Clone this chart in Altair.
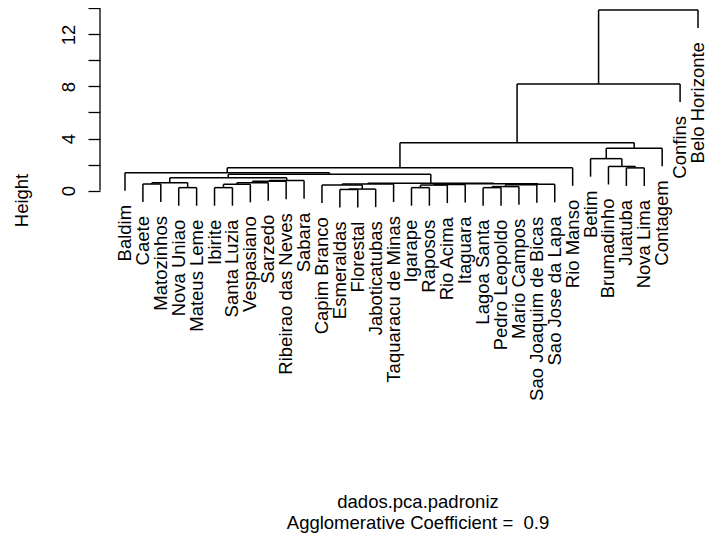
import altair as alt
import pandas as pd

# Leaves in dendrogram order
leaves = ["Baldim", "Caete", "Matozinhos", "Nova Uniao", "Mateus Leme", "Ibirite",
          "Santa Luzia", "Vespasiano", "Sarzedo", "Ribeirao das Neves", "Sabara",
          "Capim Branco", "Esmeraldas", "Florestal", "Jaboticatubas", "Taquaracu de Minas",
          "Igarape", "Raposos", "Rio Acima", "Itaguara", "Lagoa Santa", "Pedro Leopoldo",
          "Mario Campos", "Sao Joaquim de Bicas", "Sao Jose da Lapa", "Rio Manso", "Betim",
          "Brumadinho", "Juatuba", "Nova Lima", "Contagem", "Confins", "Belo Horizonte"]

# Merge matrix (R style: negative = leaf position, positive = earlier merge number)
merge_left = [-13, 1, -4, -6, -17, -21, 6, -12, 5, 7, 4, -2, 9, 10, 8, 12, 11, 13,
              15, 17, 20, 16, 22, -1, -29, 24, -28, -27, 28, 26, 30, 31]
merge_right = [-14, -15, -5, -7, -18, -22, -23, 2, -19, -24, -8, -3, -20, -25, -16, 3,
               -9, 14, 18, -10, -11, 21, 19, 23, -30, -26, 25, 27, -31, 29, -32, -33]
merge_height = [0.08, 0.11, 0.22, 0.22, 0.22, 0.22, 0.30, 0.42, 0.42, 0.44, 0.48, 0.50,
                0.47, 0.48, 0.50, 0.60, 0.60, 0.52, 0.56, 0.72, 0.76, 0.98, 1.25, 1.36,
                1.74, 1.75, 1.85, 2.45, 3.25, 3.68, 8.20, 13.88]

y_ticks = [0, 2, 4, 6, 8, 10, 12, 14]
y_labelled = [0, 4, 8, 12]
hang = 0.1
main_label = "dados.pca.padroniz"
sub_label = "Agglomerative Coefficient = \u00a00.9"

# ---- build segments from the merge structure ----
hang_len = hang * max(merge_height)
node_x, node_h = {}, {}
segs = []
leaf_bottom = {}
for k, (a, b, h) in enumerate(zip(merge_left, merge_right, merge_height), start=1):
    xs = []
    for c in (a, b):
        if c < 0:
            cx = -c
            bottom = h - hang_len
            leaf_bottom[cx] = bottom
        else:
            cx = node_x[c]
            bottom = node_h[c]
        segs.append({"x": cx, "x2": cx, "y": bottom, "y2": h})
        xs.append(cx)
    segs.append({"x": xs[0], "x2": xs[1], "y": h, "y2": h})
    node_x[k] = (xs[0] + xs[1]) / 2
    node_h[k] = h

seg_df = pd.DataFrame(segs)
leaf_df = pd.DataFrame({"name": leaves,
                        "x": list(range(1, len(leaves) + 1)),
                        "y": [leaf_bottom[i] for i in range(1, len(leaves) + 1)]})
axis_df = pd.DataFrame({"y": [y_ticks[0]], "y2": [y_ticks[-1]]})
text_df = pd.DataFrame({"t": [main_label]})
sub_df = pd.DataFrame({"t": [sub_label]})

FONT = "Liberation Sans"
FS = 18.5

xscale = alt.Scale(domain=[-0.396, 33.503], nice=False, zero=False)
yscale = alt.Scale(domain=[-2.115, 14.038], nice=False, zero=False)
lbl_test = " || ".join(f"datum.value == {v}" for v in y_labelled)
yaxis = alt.Axis(values=y_ticks, title="Height", domain=False, grid=False,
                 tickSize=12, tickColor="black", tickWidth=1.3,
                 labelAngle=270, labelAlign="center", labelBaseline="alphabetic",
                 labelPadding=13.5, labelFont=FONT, labelFontSize=FS, labelColor="black",
                 labelExpr=f"({lbl_test}) ? datum.label : ''",
                 labelOverlap=False, labelFlush=False,
                 titleAngle=270, titleAlign="center", titleBaseline="alphabetic",
                 titleX=-73, titleY=192, titleFont=FONT, titleFontSize=FS,
                 titleFontWeight="normal", titleColor="black")

X = alt.X("x:Q", scale=xscale, axis=None)
Y = alt.Y("y:Q", scale=yscale, axis=yaxis)

rules = alt.Chart(seg_df).mark_rule(color="black", strokeWidth=1.5).encode(
    x=X, x2="x2:Q", y=Y, y2="y2:Q")

labels = alt.Chart(leaf_df).mark_text(angle=270, align="right", baseline="middle",
                                      yOffset=14, font=FONT, fontSize=FS,
                                      color="black").encode(x=X, y=Y, text="name:N")

axis_line = alt.Chart(axis_df).mark_rule(color="black", strokeWidth=1.3).encode(
    x=alt.value(0), y=Y, y2="y2:Q")

main_txt = alt.Chart(text_df).mark_text(font=FONT, fontSize=FS, color="black",
                                        align="center", baseline="alphabetic").encode(
    x=alt.value(318), y=alt.value(500), text="t:N")
sub_txt = alt.Chart(sub_df).mark_text(font=FONT, fontSize=FS, color="black",
                                      align="center", baseline="alphabetic").encode(
    x=alt.value(318), y=alt.value(521), text="t:N")

chart = alt.layer(rules, axis_line, labels, main_txt, sub_txt).properties(
    width=607, height=210,
    padding={"left": 92, "top": 0, "right": 0, "bottom": 316},
    autosize=alt.AutoSizeParams(type="none"),
    background="white",
).configure_view(stroke=None)

chart.save("out.html", embed_options={"renderer": "svg", "actions": False})
